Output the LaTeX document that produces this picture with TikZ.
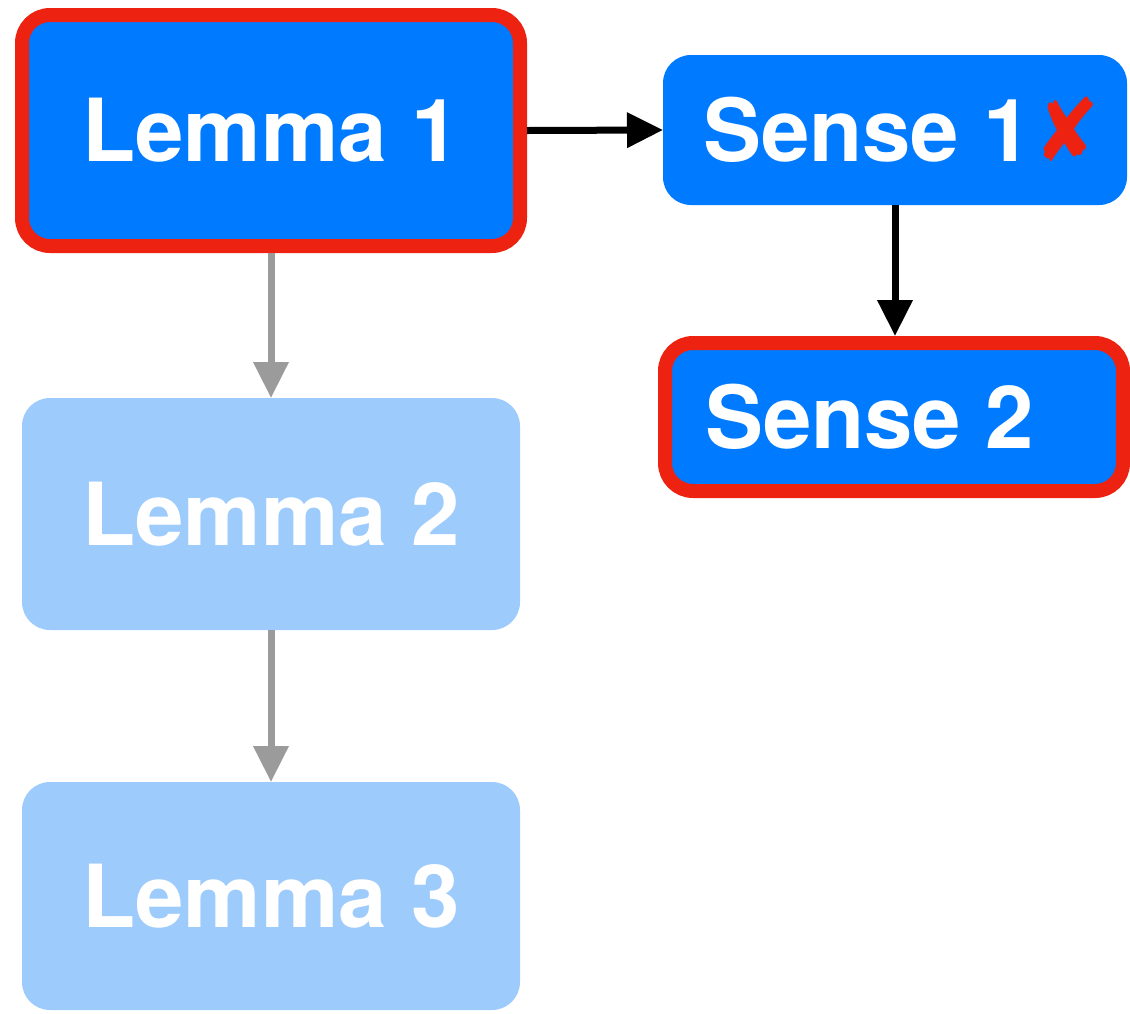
\documentclass[tikz,border=0pt]{standalone}
\usepackage{fontspec}
\usepackage{graphicx}
\setmainfont{TeX Gyre Heros}
\newfontfamily\symfont{DejaVu Sans}
\usetikzlibrary{arrows.meta}
\definecolor{ablue}{HTML}{007AFF}
\definecolor{lblue}{HTML}{9DCBFB}
\definecolor{xred}{HTML}{EE2211}
\definecolor{agray}{HTML}{9B9B9B}
\begin{document}
\begin{tikzpicture}[x=1pt,y=-1pt,
  box/.style={rectangle, rounded corners=28pt, text=white, inner sep=0pt,
    font=\fontsize{87}{100}\selectfont\bfseries, text height=62pt, text depth=0pt},
  dark/.style={box, fill=ablue},
  light/.style={box, fill=lblue, outer sep=0pt},
  sel/.style={draw=xred, line width=14pt},
  blk/.style={line width=7pt, -{Triangle[length=36pt,width=34pt]}},
  gry/.style={line width=7pt, draw=agray, -{Triangle[length=36pt,width=34pt]}}]
\useasboundingbox (0,0) rectangle (1130,1013);
\node[dark, sel, minimum width=498pt, minimum height=231pt] (l1) at (271,130.5) {Lemma 1};
\node[light, minimum width=498pt, minimum height=232pt] (l2) at (271,514) {Lemma 2};
\node[light, minimum width=498pt, minimum height=228pt] (l3) at (271,896) {Lemma 3};
\node[dark, outer sep=0pt, minimum width=464pt, minimum height=150pt] (s1) at (895,130)
  {\makebox[384pt][l]{Sense 1\hspace{3pt}{\symfont\fontsize{78}{90}\selectfont\color{xred}\scalebox{1}[1.12]{✘}}}};
\node[dark, sel, minimum width=458pt, minimum height=148pt] (s2) at (894,417)
  {\makebox[378pt][l]{Sense 2}};
\draw[blk] (l1.east) -- (s1.west);
\draw[blk] (s1.south) -- (s1.south |- s2.north);
\draw[gry] (l1.south) -- (l2.north);
\draw[gry] (l2.south) -- (l3.north);
\end{tikzpicture}
\end{document}
